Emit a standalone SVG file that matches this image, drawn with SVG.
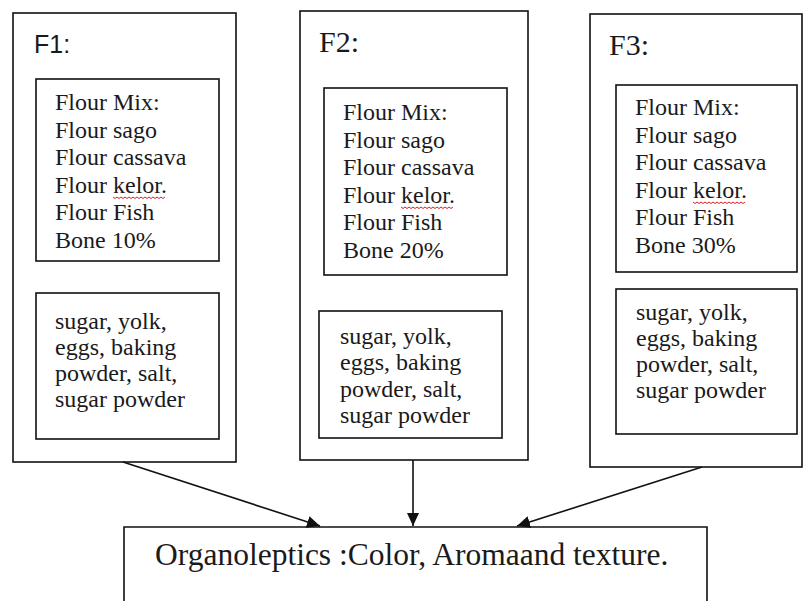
<svg xmlns="http://www.w3.org/2000/svg" width="803" height="601" viewBox="0 0 803 601">
<style>
.box{fill:#fff;stroke:#111;stroke-width:1.6}
.t{font-family:'Liberation Serif',Times,'DejaVu Serif',serif;font-size:24px;fill:#1a1a1a}
.lbl{font-family:'Liberation Serif',Times,'DejaVu Serif',serif;font-size:30px;fill:#1a1a1a}
.lbls{font-family:'Liberation Sans',Arial,sans-serif;font-size:25px;fill:#1a1a1a}
.big{font-family:'Liberation Serif',Times,'DejaVu Serif',serif;font-size:31.5px;fill:#1a1a1a}
.sq{fill:none;stroke:#e02020;stroke-width:1}
.conn{stroke:#111;stroke-width:1.6;fill:none;marker-end:url(#ah)}
</style>
<defs>
<marker id="ah" markerUnits="userSpaceOnUse" markerWidth="14" markerHeight="12" refX="13" refY="6" orient="auto">
<path d="M0,0 L13,6 L0,12 z" fill="#111"/>
</marker>
<clipPath id="c2"><rect x="319" y="311" width="183" height="117"/></clipPath>
</defs>
<rect width="803" height="601" fill="#fff"/>

<g id="F1">
<rect class="box" x="13" y="13" width="223" height="449"/>
<text class="lbls" x="34" y="53">F1:</text>
<rect class="box" x="36" y="79" width="183" height="182"/>
<text class="t" font-family="Liberation Serif, serif"><tspan x="55" y="110">Flour Mix:</tspan><tspan x="55" y="137.6">Flour sago</tspan><tspan x="55" y="165.2">Flour cassava</tspan><tspan x="55" y="192.8">Flour kelor.</tspan><tspan x="55" y="220.4">Flour Fish</tspan><tspan x="55" y="248">Bone 10%</tspan></text>
<path class="sq" d="M113,197 l2,1.5 l2,-1.5 l2,1.5 l2,-1.5 l2,1.5 l2,-1.5 l2,1.5 l2,-1.5 l2,1.5 l2,-1.5 l2,1.5 l2,-1.5 l2,1.5 l2,-1.5 l2,1.5 l2,-1.5 l2,1.5 l2,-1.5 l2,1.5 l2,-1.5 l2,1.5 l2,-1.5 l2,1.5 l2,-1.5 l2,1.5 l2,-1.5"/>
<rect class="box" x="36" y="293" width="183" height="146"/>
<text class="t"><tspan x="55" y="329">sugar, yolk,</tspan><tspan x="55" y="355">eggs, baking</tspan><tspan x="55" y="381">powder, salt,</tspan><tspan x="55" y="407">sugar powder</tspan></text>
</g>

<g id="F2">
<rect class="box" x="300" y="11" width="228" height="449"/>
<text class="lbl" x="319" y="52">F2:</text>
<rect class="box" x="324" y="88" width="183" height="187"/>
<text class="t"><tspan x="343" y="120">Flour Mix:</tspan><tspan x="343" y="147.6">Flour sago</tspan><tspan x="343" y="175.2">Flour cassava</tspan><tspan x="343" y="202.8">Flour kelor.</tspan><tspan x="343" y="230.4">Flour Fish</tspan><tspan x="343" y="258">Bone 20%</tspan></text>
<path class="sq" d="M401,207 l2,1.5 l2,-1.5 l2,1.5 l2,-1.5 l2,1.5 l2,-1.5 l2,1.5 l2,-1.5 l2,1.5 l2,-1.5 l2,1.5 l2,-1.5 l2,1.5 l2,-1.5 l2,1.5 l2,-1.5 l2,1.5 l2,-1.5 l2,1.5 l2,-1.5 l2,1.5 l2,-1.5 l2,1.5 l2,-1.5 l2,1.5 l2,-1.5"/>
<rect class="box" x="319" y="311" width="183" height="127"/>
<text class="t" clip-path="url(#c2)"><tspan x="340" y="344">sugar, yolk,</tspan><tspan x="340" y="370">eggs, baking</tspan><tspan x="340" y="396.5">powder, salt,</tspan><tspan x="340" y="423">sugar powder</tspan></text>
</g>

<g id="F3">
<rect class="box" x="590" y="14" width="212" height="453"/>
<text class="lbl" x="609" y="55">F3:</text>
<rect class="box" x="616" y="85" width="181" height="187"/>
<text class="t"><tspan x="635" y="115">Flour Mix:</tspan><tspan x="635" y="142.6">Flour sago</tspan><tspan x="635" y="170.2">Flour cassava</tspan><tspan x="635" y="197.8">Flour kelor.</tspan><tspan x="635" y="225.4">Flour Fish</tspan><tspan x="635" y="253">Bone 30%</tspan></text>
<path class="sq" d="M693,202 l2,1.5 l2,-1.5 l2,1.5 l2,-1.5 l2,1.5 l2,-1.5 l2,1.5 l2,-1.5 l2,1.5 l2,-1.5 l2,1.5 l2,-1.5 l2,1.5 l2,-1.5 l2,1.5 l2,-1.5 l2,1.5 l2,-1.5 l2,1.5 l2,-1.5 l2,1.5 l2,-1.5 l2,1.5 l2,-1.5 l2,1.5 l2,-1.5"/>
<rect class="box" x="616" y="289" width="181" height="145"/>
<text class="t"><tspan x="636" y="320">sugar, yolk,</tspan><tspan x="636" y="346">eggs, baking</tspan><tspan x="636" y="372">powder, salt,</tspan><tspan x="636" y="398">sugar powder</tspan></text>
</g>

<g id="Organoleptics">
<path class="box" d="M124,602 V527 H707 V602"/>
<text class="big" x="155" y="565">Organoleptics :Color, Aromaand texture.</text>
</g>

<g id="connectors">
<line class="conn" x1="123" y1="462" x2="320" y2="526"/>
<line class="conn" x1="413" y1="460" x2="413" y2="526"/>
<line class="conn" x1="702" y1="467" x2="517" y2="526"/>
</g>
</svg>
